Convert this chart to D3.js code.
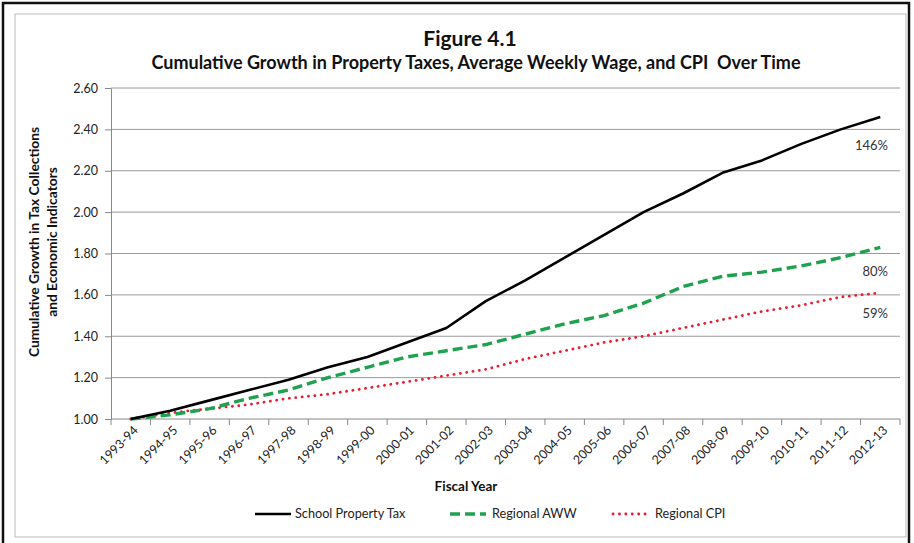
<!DOCTYPE html>
<html>
<head>
<meta charset="utf-8">
<script src="https://cdn.jsdelivr.net/npm/d3@7"></script>
<style>
  body { margin: 0; background: #fff; }
  svg text { font-family: Lato, "Open Sans", sans-serif; }
</style>
</head>
<body>
<div class="container"></div>
<script>
// fiscal years on the category axis
var years = ["1993-94", "1994-95", "1995-96", "1996-97", "1997-98", "1998-99", "1999-00",
    "2000-01", "2001-02", "2002-03", "2003-04", "2004-05", "2005-06", "2006-07",
    "2007-08", "2008-09", "2009-10", "2010-11", "2011-12", "2012-13"];

// values
var schoolTax = [1.00, 1.04, 1.09, 1.14, 1.19, 1.25, 1.30, 1.37, 1.44, 1.57,
    1.67, 1.78, 1.89, 2.00, 2.09, 2.19, 2.25, 2.33, 2.40, 2.46];
var regionalAww = [1.00, 1.02, 1.05, 1.10, 1.14, 1.20, 1.25, 1.30, 1.33, 1.36,
    1.41, 1.46, 1.50, 1.56, 1.64, 1.69, 1.71, 1.74, 1.78, 1.83];
var regionalCpi = [1.00, 1.03, 1.05, 1.07, 1.10, 1.12, 1.15, 1.18, 1.21, 1.24,
    1.29, 1.33, 1.37, 1.40, 1.44, 1.48, 1.52, 1.55, 1.59, 1.61];

var yTicks = [1.0, 1.2, 1.4, 1.6, 1.8, 2.0, 2.2, 2.4, 2.6];
var endLabels = ["146%", "80%", "59%"];
var seriesNames = ["School Property Tax", "Regional AWW", "Regional CPI"];

var loadChart = function () {
    const WIDTH = 914;
    const HEIGHT = 543;
    var plot = {left: 111, right: 900, top: 88, bottom: 419};

    var svg = d3.select('.container').append('svg')
        .attr('width', WIDTH)
        .attr('height', HEIGHT);

    // frame
    svg.append('rect').attr('x', 15).attr('y', 14).attr('width', 891).attr('height', 523)
        .attr('fill', 'none').attr('stroke', '#bbb').attr('stroke-width', 1);
    svg.append('rect').attr('x', 3).attr('y', 3).attr('width', 906).attr('height', 560)
        .attr('fill', 'none').attr('stroke', '#111').attr('stroke-width', 2.5);

    var xScale = d3.scaleBand().domain(years).range([plot.left, plot.right]);
    var yScale = d3.scaleLinear().domain([1.0, 2.6]).range([plot.bottom, plot.top]);
    var xc = function (d, i) { return xScale(years[i]) + xScale.bandwidth() / 2; };

    // gridlines
    svg.append('g').selectAll('line').data(yTicks.slice(1)).enter().append('line')
        .attr('x1', plot.left).attr('x2', plot.right)
        .attr('y1', function (d) { return yScale(d); })
        .attr('y2', function (d) { return yScale(d); })
        .attr('stroke', '#9a9a9a').attr('stroke-width', 1);

    // y axis
    var yAxis = svg.append('g').attr('transform', 'translate(' + plot.left + ',0)')
        .call(d3.axisLeft(yScale).tickValues(yTicks).tickFormat(d3.format('.2f'))
            .tickSize(6).tickPadding(7).tickSizeOuter(0));
    yAxis.select('.domain').attr('stroke', '#888');
    yAxis.selectAll('.tick line').attr('stroke', '#888');
    yAxis.selectAll('.tick text').attr('font-size', 12.5).attr('fill', '#222')
        .style('font-family', 'Lato, sans-serif');

    // x axis, ticks between categories
    var xAxis = svg.append('g').attr('transform', 'translate(0,' + plot.bottom + ')');
    xAxis.append('line').attr('x1', plot.left).attr('x2', plot.right)
        .attr('stroke', '#888');
    var tickPos = years.map(function (d) { return xScale(d); }).concat([plot.right]);
    xAxis.selectAll('line.tk').data(tickPos).enter().append('line').attr('class', 'tk')
        .attr('x1', function (d) { return d; }).attr('x2', function (d) { return d; })
        .attr('y1', 0).attr('y2', 6).attr('stroke', '#888');
    xAxis.selectAll('text').data(years).enter().append('text')
        .attr('transform', function (d, i) {
            return 'translate(' + (xc(d, i) + 5) + ',9) rotate(-45)';
        })
        .attr('text-anchor', 'end')
        .attr('dy', '0.35em')
        .attr('font-size', 12.5).attr('fill', '#222')
        .text(function (d) { return d; });

    // lines
    var line = d3.line().x(xc).y(function (d) { return yScale(d); });
    var styles = [
        {data: schoolTax, color: '#000', width: 2.6, dash: null, cap: 'butt'},
        {data: regionalAww, color: '#1fa14f', width: 3.4, dash: '10,5', cap: 'butt'},
        {data: regionalCpi, color: '#ee1b2e', width: 2.8, dash: '0.1,6.3', cap: 'round'}
    ];
    styles.slice().reverse().forEach(function (s) {
        svg.append('path').datum(s.data).attr('d', line)
            .attr('fill', 'none').attr('stroke', s.color).attr('stroke-width', s.width)
            .attr('stroke-dasharray', s.dash).attr('stroke-linecap', s.cap)
            .attr('stroke-linejoin', 'round');
    });

    // end labels
    var labelY = [yScale(schoolTax[19]) + 33, yScale(regionalAww[19]) + 29, yScale(regionalCpi[19]) + 25];
    svg.append('g').selectAll('text').data(endLabels).enter().append('text')
        .attr('x', 888).attr('y', function (d, i) { return labelY[i]; })
        .attr('text-anchor', 'end').attr('font-size', 13).attr('fill', '#333')
        .text(function (d) { return d; });

    // titles
    svg.append('text').attr('x', 470).attr('y', 46).attr('text-anchor', 'middle')
        .attr('font-size', 21).attr('font-weight', 'bold').attr('fill', '#111')
        .text('Figure 4.1');
    svg.append('text').attr('x', 476).attr('y', 69).attr('text-anchor', 'middle')
        .attr('font-size', 18).attr('font-weight', 'bold').attr('fill', '#111')
        .attr('xml:space', 'preserve')
        .text('Cumulative Growth in Property Taxes, Average Weekly Wage, and CPI  Over Time');

    var yTitle = svg.append('text').attr('transform', 'translate(0,242) rotate(-90)')
        .attr('text-anchor', 'middle').attr('font-size', 13.8).attr('font-weight', 'bold')
        .attr('fill', '#111');
    yTitle.append('tspan').attr('x', 0).attr('y', 39).text('Cumulative Growth in Tax Collections');
    yTitle.append('tspan').attr('x', 0).attr('y', 57).text('and Economic Indicators');

    svg.append('text').attr('x', 466).attr('y', 491).attr('text-anchor', 'middle')
        .attr('font-size', 13.5).attr('font-weight', 'bold').attr('fill', '#111')
        .text('Fiscal Year');

    // legend
    var legendX = [255, 450, 613];
    var legend = svg.append('g').selectAll('g').data(styles).enter().append('g')
        .attr('transform', function (d, i) { return 'translate(' + legendX[i] + ',514)'; });
    legend.append('line').attr('x1', 0).attr('x2', 36).attr('y1', 0).attr('y2', 0)
        .attr('stroke', function (d) { return d.color; })
        .attr('stroke-width', function (d) { return d.width; })
        .attr('stroke-dasharray', function (d) { return d.dash; })
        .attr('stroke-linecap', function (d) { return d.cap; });
    legend.append('text').attr('x', function (d, i) { return i === 0 ? 40 : 42; }).attr('y', 0)
        .attr('dy', '0.35em').attr('font-size', 12.7).attr('fill', '#222')
        .text(function (d, i) { return seriesNames[i]; });
};

window.onload = loadChart;
</script>
</body>
</html>
